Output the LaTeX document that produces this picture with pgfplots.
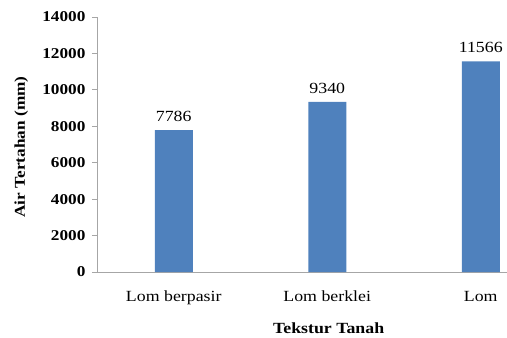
\documentclass[border=0pt]{standalone}
\usepackage{fontspec}
\setmainfont[FakeStretch=1.15]{Liberation Serif}
\usepackage{pgfplots}
\pgfplotsset{compat=1.18}
\definecolor{barblue}{HTML}{4F81BD}
\definecolor{axgray}{HTML}{A6A6A6}
\begin{document}
\begin{tikzpicture}[x=1pt,y=1pt]
\path[use as bounding box] (0,0) rectangle (507,338);
\begin{axis}[
  at={(97pt,66pt)}, anchor=south west,
  scale only axis, width=410pt, height=255pt,
  xmin=-0.5, xmax=2.171, ymin=0, ymax=14000,
  axis x line*=bottom, axis y line*=left,
  axis line style={axgray, line width=0.8pt},
  x axis line style={-}, y axis line style={-},
  xtick={0,1,2}, xticklabels={Lom berpasir, Lom berklei, Lom},
  xtick style={draw=none},
  ytick={0,2000,...,14000},
  scaled y ticks=false,
  ytick style={axgray, line width=0.8pt},
  tick align=outside, major tick length=5pt,
  /pgf/number format/assume math mode=true,
  /pgf/number format/1000 sep={},
  yticklabel style={font=\fontsize{15}{17}\selectfont\bfseries, xshift=-3pt},
  xticklabel style={font=\fontsize{15.5}{17}\selectfont, text height=11pt, text depth=3pt, yshift=-10pt},
  ylabel={Air Tertahan (mm)},
  ylabel style={font=\fontsize{15}{17}\selectfont\bfseries, at={(axis description cs:-0.185,0.49)}, anchor=center},
  xlabel={Tekstur Tanah},
  xlabel style={font=\fontsize{15.5}{17}\selectfont\bfseries, at={(axis description cs:0.565,-0.22)}, anchor=center},
  ybar, bar width=38pt,
  nodes near coords,
  every node near coord/.append style={font=\fontsize{15.5}{17}\selectfont, yshift=5pt, black},
  clip=false,
]
\addplot[fill=barblue, draw=none] coordinates {(0,7786) (1,9340) (2,11566)};
\end{axis}
\end{tikzpicture}
\end{document}
